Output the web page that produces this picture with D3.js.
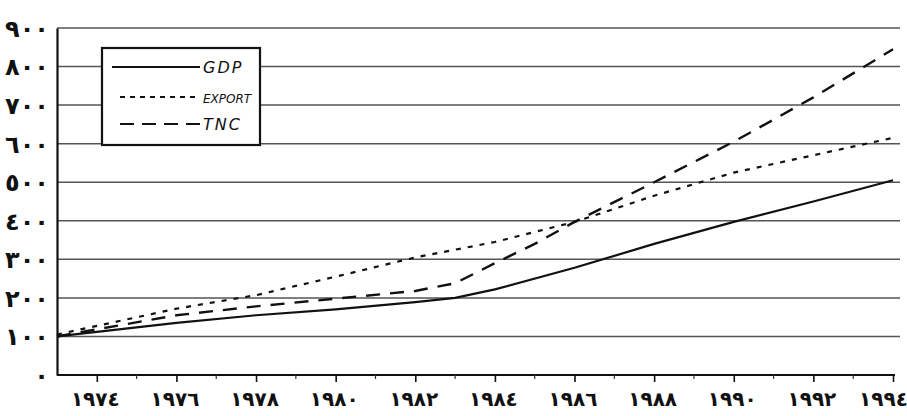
<!DOCTYPE html>
<html><head><meta charset="utf-8">
<script src="https://cdn.jsdelivr.net/npm/d3@7"></script>
<style>body{margin:0;background:#fff}svg{display:block}</style>
</head><body>
<svg id="c" width="907" height="416"></svg>
<script>
const gdpYears = [1973,1976,1978,1980,1982,1983,1984,1986,1988,1990,1992,1994];
const gdpValues = [100,135,155,170,189,200,222,278,340,397,450,505];
const exportYears = [1973,1976,1978,1980,1982,1984,1986,1988,1990,1992,1994];
const exportValues = [105,172,207,255,305,345,397,465,525,570,615];
const tncYears = [1973,1976,1978,1980,1982,1983,1984,1985,1986,1988,1990,1992,1994];
const tncValues = [100,155,178,198,218,238,290,340,397,500,605,720,845];
const yTicks = [0,100,200,300,400,500,600,700,800,900];
const yTickLabels = ["٠","١٠٠","٢٠٠","٣٠٠","٤٠٠","٥٠٠","٦٠٠","٧٠٠","٨٠٠","٩٠٠"];
const xTicks = [1974,1976,1978,1980,1982,1984,1986,1988,1990,1992,1994];
const xTickLabels = ["١٩٧٤","١٩٧٦","١٩٧٨","١٩٨٠","١٩٨٢","١٩٨٤","١٩٨٦","١٩٨٨","١٩٩٠","١٩٩٢","١٩٩٤"];
const seriesNames = ["GDP","EXPORT","TNC"];

const svg = d3.select("#c");
const x = d3.scaleLinear().domain([1973,1994]).range([57,893]);
const y = d3.scaleLinear().domain([0,900]).range([375,28]);

// gridlines
svg.append("g").selectAll("line").data(yTicks.filter(d=>d>0)).join("line")
  .attr("x1",57).attr("x2",900).attr("y1",d=>y(d)).attr("y2",d=>y(d))
  .attr("stroke","#555").attr("stroke-width",1.5);

// y axis
const yAxis = d3.axisLeft(y).tickValues(yTicks).tickSize(0).tickPadding(8)
  .tickFormat((d,i)=>yTickLabels[i]);
const gy = svg.append("g").attr("transform","translate(57,0)").call(yAxis);
gy.select(".domain").attr("stroke","#111").attr("stroke-width",2.2);
gy.selectAll("text").attr("font-family","DejaVu Sans").attr("font-weight","bold")
  .attr("font-size",24).attr("letter-spacing",-1.5).attr("fill","#111").attr("dy","0.35em");

// x axis
const allYears = d3.range(1973,1995);
const xAxis = d3.axisBottom(x).tickValues(xTicks).tickSize(7).tickPadding(10)
  .tickFormat((d,i)=>xTickLabels[i]);
const gx = svg.append("g").attr("transform","translate(0,375)").call(xAxis);
gx.select(".domain").attr("stroke","#111").attr("stroke-width",2.2).attr("d","M57,0H895");
gx.selectAll(".tick line").attr("stroke","#111").attr("stroke-width",1.6);
gx.selectAll("text").attr("font-family","DejaVu Sans").attr("font-weight","bold")
  .attr("font-size",20).attr("letter-spacing",-1.5).attr("fill","#111")
  .attr("dx",(d,i)=>i===xTicks.length-1?-10:-2);
svg.append("g").selectAll("line").data(allYears.filter(d=>d%2===1 && d>1973)).join("line")
  .attr("x1",d=>x(d)).attr("x2",d=>x(d)).attr("y1",375).attr("y2",379)
  .attr("stroke","#333").attr("stroke-width",1.2);

const line = d3.line().x(d=>x(d[0])).y(d=>y(d[1]));
const mk = (ys,vs)=>ys.map((yr,i)=>[yr,vs[i]]);
svg.append("path").datum(mk(gdpYears,gdpValues)).attr("d",line)
  .attr("fill","none").attr("stroke","#111").attr("stroke-width",2.2);
svg.append("path").datum(mk(exportYears,exportValues)).attr("d",line)
  .attr("fill","none").attr("stroke","#111").attr("stroke-width",2.2).attr("stroke-dasharray","5,7");
svg.append("path").datum(mk(tncYears,tncValues)).attr("d",line)
  .attr("fill","none").attr("stroke","#111").attr("stroke-width",2.4).attr("stroke-dasharray","14,10");

// legend
const lg = svg.append("g");
lg.append("rect").attr("x",102).attr("y",48).attr("width",158).attr("height",97)
  .attr("fill","#fff").attr("stroke","#111").attr("stroke-width",2.2);
const dashes = [null,"5,5","14,8"];
const ly = [67,97,124];
seriesNames.forEach((n,i)=>{
  lg.append("line").attr("x1",i===0?112:120).attr("x2",200).attr("y1",ly[i]).attr("y2",ly[i])
    .attr("stroke","#111").attr("stroke-width",2).attr("stroke-dasharray",dashes[i]);
  lg.append("text").attr("x",203).attr("y",ly[i]+6).text(n)
    .attr("font-family","DejaVu Sans").attr("font-style","italic")
    .attr("font-size",i===1?12:16).attr("letter-spacing",i===1?0:2).attr("fill","#111");
});
</script>
</body></html>
